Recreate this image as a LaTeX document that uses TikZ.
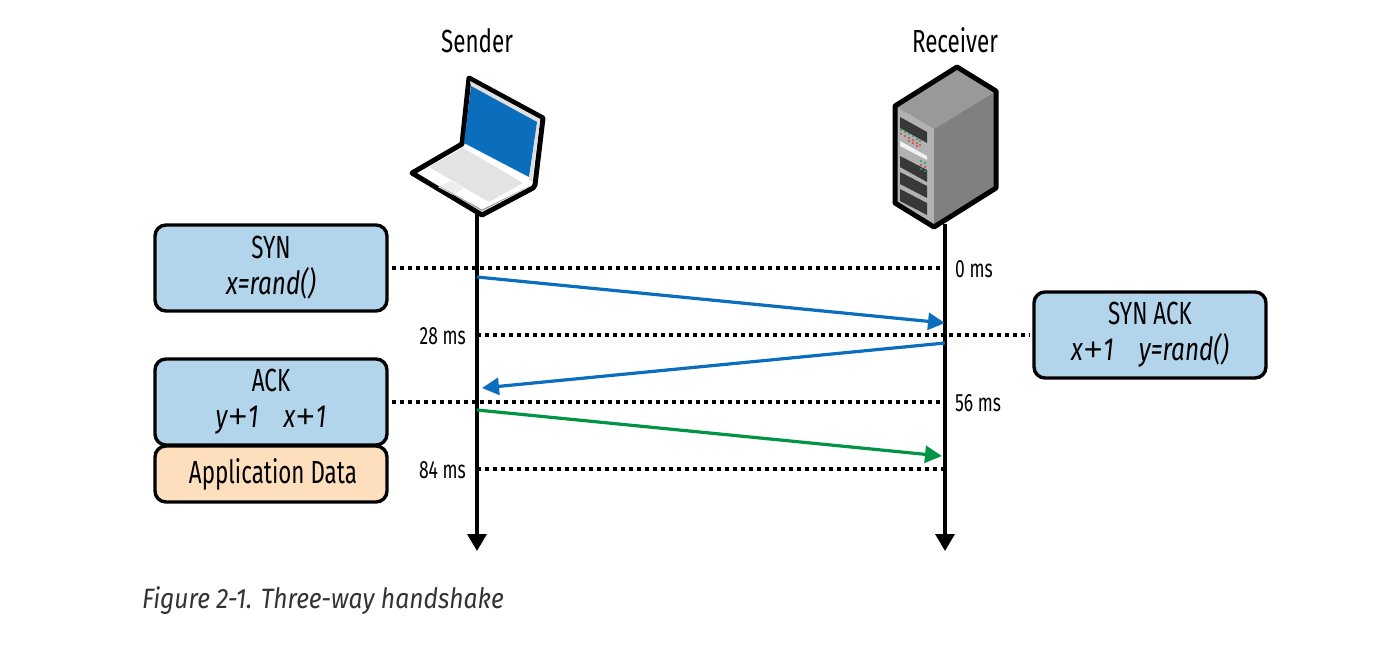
\documentclass[tikz,border=0pt]{standalone}
\usepackage{fontspec}
\setmainfont[FakeStretch=0.7]{Fira Sans}
\newfontfamily\msgitalic[FakeStretch=0.76,UprightFont=* Italic]{Fira Sans}
\newfontfamily\captionface[FakeStretch=0.88,UprightFont=* Italic]{Fira Sans}
\newfontfamily\plusface{Liberation Sans}
\usetikzlibrary{arrows.meta,calc}
\definecolor{boxblue}{HTML}{B2D5EC}
\definecolor{boxpeach}{HTML}{FDDFBE}
\definecolor{flowblue}{HTML}{0A6EBD}
\definecolor{flowgreen}{HTML}{009444}
\definecolor{ledred}{HTML}{D8403A}
\definecolor{ledgreen}{HTML}{1DA35A}
\newcommand{\wideplus}{{\plusface\hspace{1pt}+\hspace{1pt}}}
\tikzset{
  x=1pt,y=-1pt,
  msgbox/.style={draw=black,line width=3.4pt,rounded corners=11pt,fill=boxblue,inner sep=0pt,
    minimum width=232pt,align=center,font=\fontsize{32}{36}\selectfont},
  databox/.style={msgbox,fill=boxpeach},
  timeline/.style={draw=black,line width=3.4pt,-{Triangle[length=17pt,width=19pt]},shorten >=-1pt},
  tick/.style={draw=black,line width=3.4pt,dash pattern=on 4pt off 4pt},
  flow/.style={line width=3.2pt,-{Triangle[length=17pt,width=17pt]}},
  timelabel/.style={font=\fontsize{25}{28}\selectfont,inner sep=0pt},
  peer/.style={font=\fontsize{32}{36}\selectfont,inner sep=0pt},
  caption/.style={font=\captionface\fontsize{28}{32}\selectfont,text=black!80,inner sep=0pt,anchor=west},
  outline/.style={draw=black,line width=5pt,line join=round},
}
\begin{document}
\begin{tikzpicture}
\useasboundingbox (0,0) rectangle (1400,645);
\fill[white] (0,0) rectangle (1400,645);

% Laptop
\filldraw[fill=white,outline] (469,78) -- (543,118) -- (535,185) -- (533,188) -- (482,215) -- (412,173) -- (462,144) -- cycle;
\fill[black!12] (470,81) -- (540,119) -- (537,124) -- (471,87) -- cycle;
\fill[black!12] (537,122) -- (540,120) -- (532,182) -- (529,180) -- cycle;
\fill[flowblue] (471,86) -- (537,122) -- (529,177) -- (464,143) -- cycle;
\fill[black!11] (463,148) -- (523,183) -- (489,202) -- (429,167) -- cycle;
\fill[black!7] (450,181) -- (464,188) -- (453,195) -- (438,187) -- cycle;
\fill[black!40] (428,180) -- (482,211) -- (530,186) -- (482,209.5) -- cycle;

% Server
\fill[black!30] (895,106) -- (934,129) -- (934,227) -- (895,203) -- cycle;
\fill[black!40] (895,106) -- (957,67) -- (996,91) -- (934,129) -- cycle;
\fill[black!50] (934,129) -- (996,91) -- (996,188) -- (934,227) -- cycle;
\draw[outline] (895,106) -- (957,67) -- (996,91) -- (996,188) -- (934,227) -- (895,203) -- cycle;
\fill[black!78] (900,117) -- (927,132) -- (927,143) -- (900,128) -- cycle;
\fill[black!5] (900,141) -- (927,156) -- (927,160) -- (900,146) -- cycle;
\fill[black!78] (900,156) -- (927,170) -- (927,182) -- (900,167) -- cycle;
\fill[black!78] (900,172) -- (927,186) -- (927,198) -- (900,184) -- cycle;
\fill[black!78] (900,189) -- (927,203) -- (927,215) -- (900,201) -- cycle;
\foreach \a/\b in {901/130,905/132,909/134,913/136,917/139,920/141}{
  \fill[ledgreen] (\a,\b) circle (1.2pt);
  \fill[ledred] (\a,\b+4) circle (1.2pt);
}
\foreach \a/\b in {909/138,913/140,917/143}{
  \fill[ledred] (\a,\b+3) circle (1.2pt);
}
\foreach \a/\b in {921/161,925/163}{
  \fill[ledgreen] (\a,\b) circle (1.2pt);
  \fill[ledred] (\a,\b+4) circle (1.2pt);
  \fill[ledgreen] (\a,\b+8) circle (1.2pt);
}

% Peer labels
\node[peer] (senderlabel) at (477,41) {Sender};
\node[peer] (receiverlabel) at (955,40) {Receiver};

% Message boxes
\node[msgbox,minimum height=86pt] (syn) at (271,268) {SYN\\\msgitalic x=rand()};
\node[msgbox,minimum height=86pt] (synack) at (1150,335) {SYN ACK\\\msgitalic x\wideplus 1\hspace{25pt}y=rand()};
\node[msgbox,minimum height=86pt] (ack) at (271,402) {ACK\\\msgitalic y\wideplus 1\hspace{25pt}x\wideplus 1};
\node[databox,minimum height=56pt] (appdata) at (271,474) {\hspace{4pt}Application Data};

% Timeline anchors
\coordinate (senderTop) at (477,213);
\coordinate (senderEnd) at (477,550);
\coordinate (receiverTop) at (945,224);
\coordinate (receiverEnd) at (945,550);

\draw[timeline] (senderTop) -- (senderEnd);
\draw[timeline] (receiverTop) -- (receiverEnd);

% Time ticks
\coordinate (t0) at (945,268);
\coordinate (t28s) at (477,335);
\coordinate (t56) at (945,402);
\coordinate (t84s) at (477,469);
\coordinate (t84r) at (945,469);
\draw[tick] (syn.east |- t0) ++(3,0) -- (t0);
\draw[tick] (t28s) -- ($(synack.west |- t28s)+(-3,0)$);
\draw[tick] (ack.east |- t56) ++(3,0) -- (t56);
\draw[tick] (t84s) -- (t84r);

\node[timelabel,anchor=west] (ms0) at (955,269) {0 ms};
\node[timelabel,anchor=east] (ms28) at (466,336) {28 ms};
\node[timelabel,anchor=west] (ms56) at (955,403) {56 ms};
\node[timelabel,anchor=east] (ms84) at (466,470) {84 ms};

% Handshake messages
\coordinate (m1a) at (477,277);
\coordinate (m1b) at (945,323);
\coordinate (m2a) at (945,343);
\coordinate (m2b) at (482,388);
\coordinate (m3a) at (477,410);
\coordinate (m3b) at (942,456);
\draw[flow,draw=flowblue,fill=flowblue] (m1a) -- (m1b);
\draw[flow,draw=flowblue,fill=flowblue] (m2a) -- (m2b);
\draw[flow,draw=flowgreen,fill=flowgreen] (m3a) -- (m3b);

\node[caption] (figcaption) at (142,601) {Figure 2-1. Three-way handshake};
\end{tikzpicture}
\end{document}
